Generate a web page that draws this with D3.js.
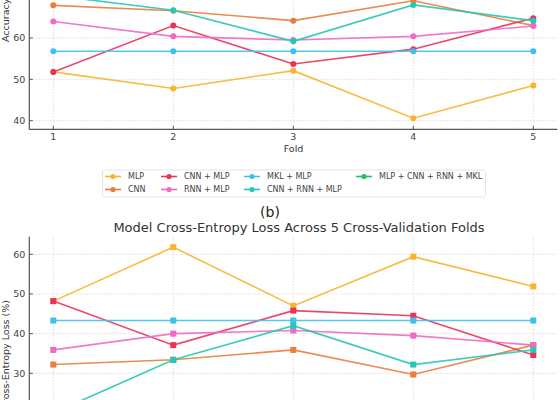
<!DOCTYPE html>
<html>
<head>
<meta charset="utf-8">
<script src="https://cdn.jsdelivr.net/npm/d3@7/dist/d3.min.js"></script>
<style>
  html, body { margin: 0; padding: 0; background: #fff; }
  svg { display: block; font-family: "DejaVu Sans", sans-serif; }
</style>
</head>
<body>
<svg id="chart" width="560" height="400"></svg>
<script>
// ---- data ----
const folds = [1, 2, 3, 4, 5];
const seriesNames = ["MLP", "CNN", "CNN + MLP", "RNN + MLP", "MKL + MLP", "CNN + RNN + MLP", "MLP + CNN + RNN + MKL"];
const seriesColors = ["#f9b42d", "#e97e3f", "#e8345a", "#ef6ac4", "#3fc1f0", "#26c7b4", "#1fc45c"];

// Accuracy (%) per fold
const accMLP       = [51.8, 47.8, 52.1, 40.6, 48.5];
const accCNN       = [67.9, 66.6, 64.2, 69.0, 63.0];
const accCNNMLP    = [51.8, 63.0, 53.7, 57.3, 64.8];
const accRNNMLP    = [64.0, 60.4, 59.5, 60.4, 62.9];
const accMKLMLP    = [56.8, 56.8, 56.8, 56.8, 56.8];
const accCNNRNNMLP = [70.3, 66.7, 59.2, 68.0, 64.2];
const accAll       = [78.5, 80.2, 77.6, 81.3, 79.4];

// Cross-entropy loss (%) per fold
const lossMLP       = [48.2, 61.8, 47.0, 59.4, 51.9];
const lossCNN       = [32.2, 33.4, 35.9, 29.7, 37.1];
const lossCNNMLP    = [48.2, 37.1, 45.8, 44.5, 34.6];
const lossRNNMLP    = [35.9, 40.0, 40.8, 39.5, 37.1];
const lossMKLMLP    = [43.3, 43.3, 43.3, 43.3, 43.3];
const lossCNNRNNMLP = [20.0, 33.4, 42.0, 32.2, 35.9];
const lossAll       = [15.2, 12.8, 16.5, 11.9, 14.1];

const accTicks  = [40, 50, 60, 70];
const lossTicks = [30, 40, 50, 60];

const accSeries  = [accMLP, accCNN, accCNNMLP, accRNNMLP, accMKLMLP, accCNNRNNMLP, accAll];
const lossSeries = [lossMLP, lossCNN, lossCNNMLP, lossRNNMLP, lossMKLMLP, lossCNNRNNMLP, lossAll];

// ---- drawing ----
const svg = d3.select("#chart");
const x = d3.scaleLinear().domain([0.8, 5.2]).range([29.3, 557.3]);
const spineColor = "#555";
const gridColor = "#d4d4d4";
const tickText = "#444";

function panel(opts) {
  const { y, yMin, yMax, ticks, data, marker, xlabel, ylabel, ylabelY } = opts;
  const g = svg.append("g");
  const y0 = y(yMin), y1 = y(yMax);
  // grid
  g.selectAll(".gx").data(folds).join("line")
    .attr("x1", d => x(d)).attr("x2", d => x(d))
    .attr("y1", y0).attr("y2", y1)
    .attr("stroke", gridColor).attr("stroke-width", 0.8).attr("stroke-dasharray", "1.5,1.5");
  g.selectAll(".gy").data(ticks).join("line")
    .attr("x1", x.range()[0]).attr("x2", x.range()[1])
    .attr("y1", d => y(d)).attr("y2", d => y(d))
    .attr("stroke", gridColor).attr("stroke-width", 0.8).attr("stroke-dasharray", "1.5,1.5");
  // series
  const line = d3.line().x((d, i) => x(folds[i])).y(d => y(d));
  data.forEach((vals, si) => {
    const c = seriesColors[si];
    g.append("path").attr("d", line(vals)).attr("fill", "none")
      .attr("stroke", c).attr("stroke-width", 1.6).attr("stroke-opacity", 0.9);
    if (marker === "circle") {
      g.selectAll(null).data(vals).join("circle")
        .attr("cx", (d, i) => x(folds[i])).attr("cy", d => y(d)).attr("r", 3)
        .attr("fill", c);
    } else {
      g.selectAll(null).data(vals).join("rect")
        .attr("x", (d, i) => x(folds[i]) - 3).attr("y", d => y(d) - 3)
        .attr("width", 6).attr("height", 6).attr("fill", c);
    }
  });
  // spines
  g.append("line").attr("x1", x.range()[0]).attr("x2", x.range()[0])
    .attr("y1", y0).attr("y2", y1).attr("stroke", spineColor).attr("stroke-width", 1.2);
  g.append("line").attr("x1", x.range()[0]).attr("x2", x.range()[1])
    .attr("y1", y0).attr("y2", y0).attr("stroke", spineColor).attr("stroke-width", 1.2);
  // ticks
  g.selectAll(".ty").data(ticks).join("line")
    .attr("x1", x.range()[0]).attr("x2", x.range()[0] + 3.5)
    .attr("y1", d => y(d)).attr("y2", d => y(d)).attr("stroke", spineColor);
  g.selectAll(".tyl").data(ticks).join("text")
    .attr("x", x.range()[0] - 4).attr("y", d => y(d)).attr("dy", "0.35em")
    .attr("text-anchor", "end").attr("font-size", 9.5).attr("fill", tickText)
    .text(d => d);
  g.selectAll(".tx").data(folds).join("line")
    .attr("x1", d => x(d)).attr("x2", d => x(d))
    .attr("y1", y0).attr("y2", y0 - 3.5).attr("stroke", spineColor);
  g.selectAll(".txl").data(folds).join("text")
    .attr("x", d => x(d)).attr("y", y0 + 10.5)
    .attr("text-anchor", "middle").attr("font-size", 9.5).attr("fill", tickText)
    .text(d => d);
  if (xlabel) {
    g.append("text").attr("x", 293.5).attr("y", y0 + 23)
      .attr("text-anchor", "middle").attr("font-size", 9.5).attr("fill", "#333").text(xlabel);
  }
  g.append("text").attr("transform", `translate(9,${ylabelY}) rotate(-90)`)
    .attr("text-anchor", opts.ylabelAnchor).attr("font-size", 9.5).attr("fill", "#333").text(ylabel);
}

// Top panel: accuracy
const yAcc = d3.scaleLinear().domain([40, 60]).range([120.7, 38]);
panel({ y: yAcc, yMin: 37.9, yMax: 90, ticks: accTicks, data: accSeries, marker: "circle",
        xlabel: "Fold", ylabel: "Accuracy (%)", ylabelY: 42, ylabelAnchor: "start" });

// Legend
const legend = svg.append("g");
const colX = [105, 161, 244, 356];
const rowY = [176.5, 189.5];
legend.append("rect").attr("x", 102.5).attr("y", 170).attr("width", 383).attr("height", 27)
  .attr("rx", 2).attr("fill", "#fff").attr("stroke", "#dedede").attr("stroke-width", 0.8);
seriesNames.forEach((name, i) => {
  const cx = colX[Math.floor(i / 2)], cy = rowY[i % 2];
  legend.append("line").attr("x1", cx).attr("x2", cx + 16).attr("y1", cy).attr("y2", cy)
    .attr("stroke", seriesColors[i]).attr("stroke-width", 1.6);
  legend.append("circle").attr("cx", cx + 8).attr("cy", cy).attr("r", 2.6).attr("fill", seriesColors[i]);
  legend.append("text").attr("x", cx + 23).attr("y", cy).attr("dy", "0.35em")
    .attr("font-size", 8).attr("fill", "#444").text(name);
});

// (b) label and title
svg.append("text").attr("x", 270).attr("y", 217).attr("text-anchor", "middle")
  .attr("font-size", 14).attr("fill", "#222").text("(b)");
svg.append("text").attr("x", 299).attr("y", 232).attr("text-anchor", "middle")
  .attr("font-size", 13).attr("fill", "#333").text("Model Cross-Entropy Loss Across 5 Cross-Validation Folds");

// Bottom panel: loss
const yLoss = d3.scaleLinear().domain([30, 60]).range([373.3, 254.3]);
panel({ y: yLoss, yMin: 0, yMax: 64.4, ticks: lossTicks, data: lossSeries, marker: "square",
        xlabel: null, ylabel: "Cross-Entropy Loss (%)", ylabelY: 300, ylabelAnchor: "end" });
</script>
</body>
</html>
